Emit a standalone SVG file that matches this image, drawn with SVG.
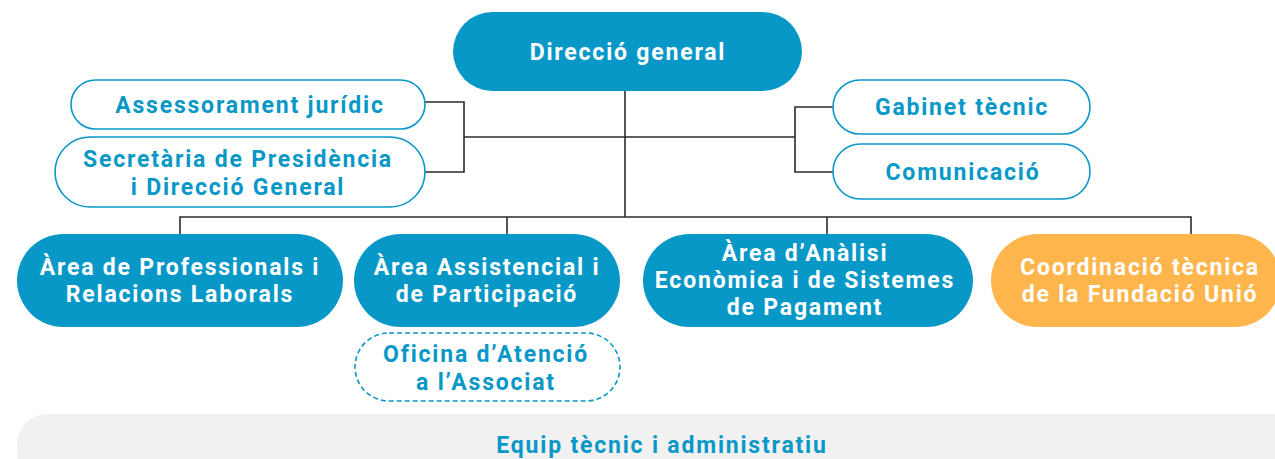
<svg xmlns="http://www.w3.org/2000/svg" width="1275" height="459" viewBox="0 0 1275 459">
<style>
.t{font-family:Roboto,"Liberation Sans",sans-serif;font-weight:700;font-size:23px;letter-spacing:1.8px;text-anchor:middle}
.w{fill:#ffffff}
.b{fill:#0898c8}
.fill{fill:#0898c8}
.out{fill:#ffffff;stroke:#0898c8;stroke-width:1.6}
.dash{fill:#ffffff;stroke:#0898c8;stroke-width:1.6;stroke-dasharray:5 3}
.org{fill:#feb54b}
.ln{fill:none;stroke:#2b2b2b;stroke-width:1.6}
</style>
<rect width="1275" height="459" fill="#ffffff"/>
<g id="connectors">
<path class="ln" d="M625 91V217"/>
<path class="ln" d="M425 102H464V172H425M464 137H795M833 107H795V172H833"/>
<path class="ln" d="M180 234V217H1191V234M507 217V234M827 217V234"/>
</g>
<g id="direccio"><rect class="fill" x="453" y="12" width="349" height="79" rx="39.5"/><text class="t w" x="628" y="60">Direcció general</text></g>
<g id="assessorament"><rect class="out" x="71" y="80" width="354" height="49" rx="24.5"/><text class="t b" x="250" y="113">Assessorament jurídic</text></g>
<g id="secretaria"><rect class="out" x="55" y="137" width="370" height="70" rx="35"/><text class="t b" x="238" y="167">Secretària de Presidència</text><text class="t b" x="238" y="195">i Direcció General</text></g>
<g id="gabinet"><rect class="out" x="833" y="80" width="257" height="54" rx="27"/><text class="t b" x="962" y="115">Gabinet tècnic</text></g>
<g id="comunicacio"><rect class="out" x="833" y="144" width="257" height="55" rx="27.5"/><text class="t b" x="963" y="180">Comunicació</text></g>
<g id="professionals"><rect class="fill" x="17" y="234" width="326" height="93" rx="46.5"/><text class="t w" x="180" y="275">Àrea de Professionals i</text><text class="t w" x="180" y="302">Relacions Laborals</text></g>
<g id="assistencial"><rect class="fill" x="354" y="234" width="266" height="93" rx="46.5"/><text class="t w" x="487" y="275">Àrea Assistencial i</text><text class="t w" x="487" y="302">de Participació</text></g>
<g id="analisi"><rect class="fill" x="643" y="234" width="330" height="93" rx="46.5"/><text class="t w" x="805" y="261">Àrea d’Anàlisi</text><text class="t w" x="805" y="288">Econòmica i de Sistemes</text><text class="t w" x="805" y="315">de Pagament</text></g>
<g id="coordinacio"><rect class="org" x="991" y="234" width="290" height="93" rx="46.5"/><text class="t w" x="1140" y="275">Coordinació tècnica</text><text class="t w" x="1140" y="302">de la Fundació Unió</text></g>
<g id="oficina"><rect class="dash" x="355" y="333" width="265" height="68" rx="34"/><text class="t b" x="486" y="362">Oficina d’Atenció</text><text class="t b" x="486" y="390">a l’Associat</text></g>
<g id="equip"><rect x="17" y="414" width="1290" height="80" rx="30" fill="#f1f1f1"/><text class="t b" x="662" y="453">Equip tècnic i administratiu</text></g>
</svg>
